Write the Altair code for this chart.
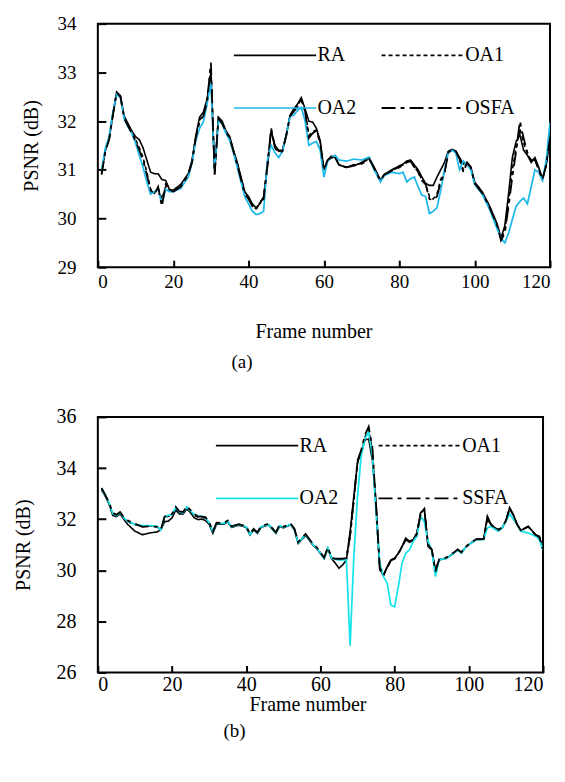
import altair as alt
import pandas as pd

FONT = "Times New Roman, Liberation Serif, DejaVu Serif, serif"

# ---------------- panel (a) ----------------
a_names = ["RA", "OA1", "OA2", "OSFA"]
a_frames = [1, 2, 3, 4, 5, 6, 7, 8, 9, 10,
            11, 12, 13, 14, 15, 16, 17, 18, 19, 20,
            22, 24,
            25, 26, 27, 28, 29, 30, 31, 32, 33, 34,
            35, 36, 37, 38, 39, 40, 41, 42, 43, 44,
            45, 46, 47, 48, 49, 50, 51, 52, 53, 54,
            55, 56, 57, 58, 59, 60, 61, 62, 63, 64,
            66, 68, 70, 72,
            73, 74, 75, 76,
            78,
            80, 81, 82, 83, 84, 85, 86, 87, 88, 89, 90,
            91, 92, 93, 94, 95, 96, 97, 98, 99, 100,
            102, 104, 106,
            107, 108, 109, 110, 111, 112, 113, 114, 115, 116, 117, 118, 119, 120]
a_ra = [30.95, 31.4, 31.65, 32.15, 32.6, 32.52, 32.1, 31.95, 31.8, 31.68,
        31.62, 31.45, 31.2, 30.95, 30.92, 30.92, 30.8, 30.78, 30.6, 30.58,
        30.7, 30.92,
        31.2, 31.7, 32.08, 32.18, 32.45, 33.0, 30.95, 32.08, 32.0, 31.8,
        31.68, 31.4, 31.15, 30.85, 30.55, 30.45, 30.3, 30.22, 30.3, 30.45,
        31.05, 31.8, 31.5, 31.4, 31.4, 31.72, 32.12, 32.25, 32.35, 32.48,
        32.25, 32.0, 31.98, 31.85, 31.6, 31.0, 31.2, 31.28, 31.25, 31.1,
        31.05, 31.08, 31.15, 31.25,
        31.1, 30.95, 30.78, 30.9,
        31.0,
        31.08, 31.12, 31.18, 31.2, 31.1, 31.0, 30.85, 30.72, 30.68, 30.68, 30.85,
        31.0, 31.15, 31.38, 31.42, 31.38, 31.25, 31.12, 31.15, 31.05, 30.75,
        30.55, 30.25, 29.88,
        29.6, 29.85, 30.5, 31.25, 31.58, 31.72, 31.4, 31.3, 31.15, 31.25, 31.05, 30.82, 31.1, 31.7]
a_oa1 = [30.92, 31.4, 31.64, 32.14, 32.56, 32.5, 32.08, 31.92, 31.78, 31.62,
         31.45, 31.25, 30.95, 30.6, 30.52, 30.62, 30.4, 30.65, 30.58, 30.56,
         30.66, 30.9,
         31.17, 31.66, 32.02, 32.12, 32.42, 33.1, 30.92, 32.06, 31.96, 31.78,
         31.66, 31.38, 31.12, 30.82, 30.52, 30.42, 30.27, 30.2, 30.32, 30.42,
         31.08, 31.82, 31.48, 31.38, 31.4, 31.7, 32.1, 32.22, 32.32, 32.45,
         32.22, 31.7, 31.78, 31.82, 31.58, 31.0, 31.2, 31.26, 31.25, 31.1,
         31.05, 31.1, 31.13, 31.23,
         31.1, 30.93, 30.78, 30.9,
         30.98,
         31.06, 31.1, 31.16, 31.18, 31.06, 30.96, 30.8, 30.7, 30.45, 30.4, 30.5,
         30.8, 30.95, 31.36, 31.42, 31.38, 31.22, 31.0, 31.15, 31.05, 30.73,
         30.53, 30.23, 29.86,
         29.58, 29.75, 30.35, 31.0, 31.45, 31.85, 31.55, 31.33, 31.18, 31.22, 31.02, 30.8, 31.1, 31.68]
a_oa2 = [31.0, 31.45, 31.68, 32.18, 32.55, 32.48, 32.05, 31.88, 31.75, 31.55,
         31.3, 31.05, 30.75, 30.5, 30.55, 30.6, 30.3, 30.6, 30.55, 30.55,
         30.62, 30.85,
         31.15, 31.6, 31.85, 31.98, 32.35, 32.8, 31.0, 32.0, 31.95, 31.75,
         31.6, 31.35, 31.05, 30.75, 30.45, 30.3, 30.15, 30.08, 30.1, 30.15,
         31.2, 31.5, 31.35, 31.25, 31.38, 31.7, 32.1, 32.12, 32.22, 32.28,
         32.0, 31.5, 31.55, 31.58, 31.4, 30.85, 31.18, 31.25, 31.3, 31.2,
         31.18, 31.22, 31.2, 31.26,
         31.05, 30.9, 30.75, 30.88,
         30.95,
         30.92, 30.95, 30.75, 30.82, 30.85, 30.65, 30.48, 30.45, 30.1, 30.15, 30.22,
         30.58, 31.0, 31.35, 31.4, 31.35, 31.0, 31.18, 31.1, 31.0, 30.7,
         30.5, 30.18, 29.78,
         29.6, 29.5, 29.7, 29.98, 30.25, 30.35, 30.42, 30.3, 30.65, 31.0, 30.95, 30.78, 31.2, 31.97]
a_osfa = [30.9, 31.38, 31.62, 32.12, 32.58, 32.5, 32.05, 31.9, 31.75, 31.6,
          31.4, 31.2, 30.9, 30.58, 30.5, 30.65, 30.25, 30.7, 30.6, 30.55,
          30.65, 30.9,
          31.15, 31.65, 32.0, 32.1, 32.4, 33.2, 30.9, 32.05, 31.95, 31.78,
          31.65, 31.38, 31.1, 30.8, 30.5, 30.4, 30.25, 30.18, 30.35, 30.4,
          31.1, 31.85, 31.45, 31.35, 31.38, 31.7, 32.1, 32.2, 32.3, 32.42,
          32.2, 31.65, 31.75, 31.8, 31.55, 31.0, 31.2, 31.25, 31.25, 31.1,
          31.05, 31.1, 31.12, 31.22,
          31.08, 30.92, 30.78, 30.9,
          30.98,
          31.05, 31.1, 31.15, 31.18, 31.05, 30.95, 30.78, 30.7, 30.4, 30.38, 30.45,
          30.75, 30.92, 31.35, 31.42, 31.38, 31.22, 30.95, 31.15, 31.05, 30.72,
          30.52, 30.22, 29.85,
          29.55, 29.7, 30.25, 30.85, 31.38, 32.0, 31.65, 31.35, 31.2, 31.2, 31.0, 30.8, 31.1, 31.65]
a_yticks = [29, 30, 31, 32, 33, 34]

# ---------------- panel (b) ----------------
b_names = ["RA", "OA1", "OA2", "SSFA"]
b_frames = [1, 2, 3, 4, 5, 6, 7, 8,
            10, 12, 14, 16,
            17, 18, 19, 20, 21, 22, 23, 24, 25, 26, 27, 28, 29, 30, 31, 32,
            34, 35, 36, 38, 40,
            41, 42, 43, 44,
            46, 48, 49, 50,
            52, 53, 54,
            56, 57, 58, 59, 60, 61, 62, 63, 64, 65, 66, 67,
            68, 69, 70, 71, 72, 73, 74, 75, 76, 77, 78, 79, 80,
            81, 82, 83, 84, 85, 86, 87, 88, 89, 90, 91, 92,
            94, 96, 97, 98, 99, 100,
            102, 104,
            105, 106, 107, 108, 109, 110, 111, 112, 113, 114,
            116, 118, 119, 120]
b_ra = [33.15, 32.9, 32.6, 32.15, 32.1, 32.2, 32.0, 31.8,
        31.53, 31.39, 31.46, 31.5,
        31.6, 31.9, 31.92, 32.05, 32.35, 32.2, 32.2, 32.4, 32.25, 32.05, 31.98, 32.0, 31.95, 31.8, 31.45, 31.8,
        31.8, 31.9, 31.68, 31.76, 31.68,
        31.38, 31.58, 31.44, 31.68,
        31.78, 31.45, 31.72, 31.66,
        31.78, 31.58, 31.05,
        31.36, 31.18, 30.98, 30.85, 30.65, 30.45, 30.85, 30.45, 30.28, 30.08, 30.21, 30.4,
        31.5, 32.9, 34.22, 34.6, 35.1, 35.14, 34.3, 32.64, 30.01, 29.82, 30.14, 30.41, 30.47,
        30.67, 30.93, 31.26, 31.13, 31.2, 31.46, 32.25, 32.4, 30.93, 30.8, 30.01, 30.41,
        30.47, 30.67, 30.8, 30.7, 30.87, 31.0,
        31.2, 31.22,
        32.12, 31.79, 31.66, 31.6, 31.66, 31.92, 32.45, 32.18, 31.79, 31.55,
        31.72, 31.39, 31.33, 30.8]
b_oa1 = [33.18, 32.92, 32.62, 32.2, 32.12, 32.24, 32.04, 31.9,
         31.78, 31.72, 31.74, 31.7,
         31.58, 32.05, 32.12, 32.16, 32.44, 32.26, 32.24, 32.46, 32.3, 32.15, 32.08, 32.08, 32.02, 31.84, 31.48, 31.82,
         31.82, 31.9, 31.7, 31.78, 31.68,
         31.4, 31.6, 31.46, 31.7,
         31.78, 31.46, 31.74, 31.68,
         31.78, 31.6, 31.07,
         31.4, 31.2, 31.0, 30.88, 30.68, 30.48, 30.88, 30.48, 30.43, 30.42, 30.42, 30.45,
         31.3, 32.7, 34.2, 34.6, 35.2, 35.5, 34.7, 32.4, 30.05, 29.8, 30.12, 30.4, 30.46,
         30.66, 30.92, 31.22, 31.12, 31.19, 31.44, 32.22, 32.38, 30.98, 30.8, 29.98, 30.41,
         30.48, 30.68, 30.8, 30.69, 30.88, 31.01,
         31.21, 31.21,
         32.05, 31.78, 31.65, 31.58, 31.66, 31.93, 32.43, 32.16, 31.8, 31.55,
         31.71, 31.38, 31.31, 30.81]
b_oa2 = [33.2, 32.93, 32.64, 32.22, 32.14, 32.25, 32.05, 31.92,
         31.79, 31.75, 31.75, 31.72,
         31.57, 32.1, 32.15, 32.18, 32.45, 32.28, 32.25, 32.47, 32.32, 32.18, 32.12, 32.12, 32.05, 31.86, 31.49, 31.83,
         31.83, 31.92, 31.7, 31.79, 31.7,
         31.4, 31.6, 31.46, 31.7,
         31.79, 31.46, 31.75, 31.68,
         31.79, 31.6, 31.07,
         31.39, 31.2, 31.0, 30.87, 30.67, 30.47, 30.87, 30.47, 30.43, 30.41, 30.41, 30.41,
         27.05, 30.54, 32.9, 34.49, 35.14, 35.41, 34.49, 32.25, 30.28, 29.75, 29.49, 28.63, 28.57,
         29.36, 30.28, 30.67, 30.8, 31.13, 31.33, 32.12, 31.9, 31.13, 30.8, 29.75, 30.41,
         30.47, 30.67, 30.8, 30.67, 30.87, 31.0,
         31.2, 31.2,
         31.66, 31.72, 31.6, 31.53, 31.66, 31.92, 32.2, 32.0, 31.79, 31.53,
         31.46, 31.33, 31.2, 30.8]
b_ssfa = [33.22, 32.95, 32.66, 32.25, 32.17, 32.28, 32.08, 31.95,
          31.82, 31.7, 31.72, 31.7,
          31.6, 32.1, 32.15, 32.2, 32.48, 32.3, 32.28, 32.5, 32.35, 32.2, 32.1, 32.1, 32.08, 31.9, 31.5, 31.86,
          31.85, 31.95, 31.72, 31.8, 31.72,
          31.42, 31.62, 31.48, 31.72,
          31.82, 31.48, 31.78, 31.7,
          31.82, 31.62, 31.1,
          31.42, 31.22, 31.02, 30.9, 30.7, 30.5, 30.9, 30.5, 30.45, 30.45, 30.45, 30.48,
          31.4, 32.8, 34.3, 34.7, 35.3, 35.62, 34.8, 32.5, 30.1, 29.8, 30.1, 30.38, 30.45,
          30.65, 30.9, 31.2, 31.1, 31.18, 31.42, 32.2, 32.4, 31.0, 30.82, 29.95, 30.42,
          30.5, 30.7, 30.82, 30.7, 30.9, 31.02,
          31.22, 31.22,
          32.0, 31.78, 31.65, 31.58, 31.68, 31.95, 32.42, 32.15, 31.8, 31.56,
          31.7, 31.38, 31.3, 30.82]
b_yticks = [26, 28, 30, 32, 34, 36]

x_ticks = [0, 20, 40, 60, 80, 100, 120]


def panel(frames, series, names, cyan, ydom, yticks, w, h, lab_fs, ytitle_pad,
          xlab_pad, xtitle_pad, xtitle_x, leg_x, leg_y, leg_row, leg_col, sub,
          sub_offset, sub_dx):
    rows = []
    for name, vals in zip(names, series):
        assert len(vals) == len(frames), (name, len(vals), len(frames))
        for f, v in zip(frames, vals):
            rows.append({"frame": f, "psnr": v, "series": name})
    df = pd.DataFrame(rows)
    legend = alt.Legend(
        orient="none", legendX=leg_x, legendY=leg_y, columns=2, direction="horizontal",
        title=None, symbolType="stroke", symbolSize=6800, labelFont=FONT,
        labelFontSize=20, labelColor="black", columnPadding=leg_col,
        rowPadding=leg_row, labelOffset=0, padding=0, labelLimit=200,
    )
    return alt.Chart(df).mark_line(clip=True).encode(
        x=alt.X("frame:Q", scale=alt.Scale(domain=[0, 120], nice=False),
                axis=alt.Axis(values=x_ticks, title="Frame number", format="d",
                              offset=-7, tickSize=7, tickWidth=2, tickColor="black",
                              domain=False, grid=False, labelFont=FONT,
                              labelFontSize=lab_fs, labelColor="black",
                              labelPadding=xlab_pad, titleFont=FONT,
                              titleFontSize=20, titleFontWeight="normal",
                              titleColor="black", titlePadding=xtitle_pad,
                              titleX=xtitle_x)),
        y=alt.Y("psnr:Q", scale=alt.Scale(domain=ydom, nice=False, zero=False),
                axis=alt.Axis(values=yticks, title="PSNR (dB)", format="d",
                              offset=-8, tickSize=8, tickWidth=2, tickColor="black",
                              domain=False, grid=False, labelFont=FONT,
                              labelFontSize=lab_fs, labelColor="black",
                              labelPadding=22, titleFont=FONT, titleFontSize=20,
                              titleFontWeight="normal", titleColor="black",
                              titlePadding=ytitle_pad)),
        color=alt.Color("series:N", sort=names,
                        scale=alt.Scale(domain=names, range=["black", "black", cyan, "black"]),
                        legend=legend),
        strokeDash=alt.StrokeDash("series:N", sort=names,
                                  scale=alt.Scale(domain=names,
                                                  range=[[1, 0], [4, 3], [1, 0], [14, 5, 4, 5]]),
                                  legend=legend),
        strokeWidth=alt.StrokeWidth("series:N", sort=names,
                                    scale=alt.Scale(domain=names, range=[1.6, 1.8, 1.7, 2.8]),
                                    legend=legend),
    ).properties(
        width=w, height=h,
        title=alt.TitleParams(sub, orient="bottom", anchor="middle", font=FONT,
                              fontSize=19, fontWeight="normal", color="black",
                              offset=sub_offset, dx=sub_dx),
    )


top = panel(a_frames, [a_ra, a_oa1, a_oa2, a_osfa], a_names, "#1CB8EB",
            [29, 34], a_yticks, 453, 244, 19, 15,
            5, 30, 216, 135, -11, -18, 21, "(a)", 12, -82)
bottom = panel(b_frames, [b_ra, b_oa1, b_oa2, b_ssfa], b_names, "#14E3EC",
               [26, 36], b_yticks, 446, 256, 20, 22,
               2, 0, 210, 117, -14, -16, 36, "(b)", 8, -86)

chart = alt.vconcat(top, bottom, spacing=29).resolve_scale(
    color="independent", strokeDash="independent", strokeWidth="independent"
).resolve_legend(
    color="independent", strokeDash="independent", strokeWidth="independent"
).properties(
    padding={"left": 5, "top": 3, "right": 5, "bottom": 5}
).configure(font=FONT).configure_axis(
    labelFont=FONT, titleFont=FONT
).configure_title(font=FONT).configure_legend(labelFont=FONT).configure_view(
    stroke="black", strokeWidth=2
)

chart.save("out.html", embed_options={"renderer": "svg", "actions": False})
